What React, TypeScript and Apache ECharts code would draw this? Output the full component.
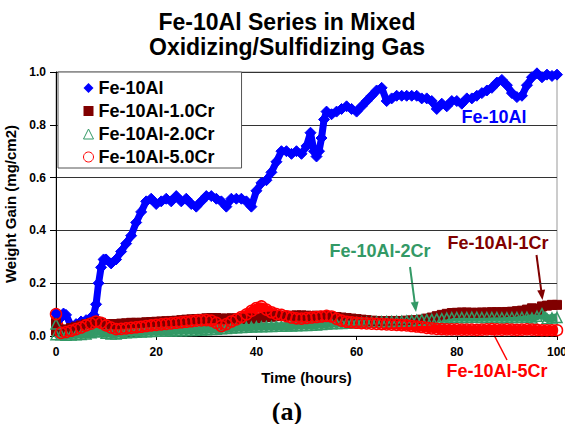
import React, { useEffect, useRef } from "react";
import * as echarts from "echarts";

// Weight gain (mg/cm2) vs time (hours) for each alloy, as [hours, gain]
const fe10Al: [number, number][] = [
  [0, 0.085], [1, 0.07], [1.5, 0.085], [2, 0.08], [3, 0.04], [4, 0.045], [5, 0.055], [6, 0.06],
  [7, 0.07], [7.5, 0.08], [8, 0.12], [8.5, 0.2], [9, 0.26], [9.5, 0.29], [10, 0.29], [11, 0.275],
  [12, 0.29], [13, 0.32], [14, 0.35], [15, 0.38], [16, 0.43], [17, 0.47], [18, 0.51], [19, 0.52],
  [20, 0.5], [21, 0.51], [22, 0.52], [23, 0.51], [24, 0.53], [25, 0.51], [26, 0.52], [27, 0.5],
  [28, 0.49], [29, 0.51], [30, 0.53], [31, 0.53], [32, 0.52], [33, 0.51], [34, 0.49], [35, 0.52],
  [36, 0.52], [37, 0.52], [38, 0.51], [39, 0.49], [40, 0.55], [41, 0.58], [42, 0.59], [43, 0.62],
  [44, 0.66], [45, 0.7], [46, 0.7], [47, 0.69], [48, 0.7], [49, 0.69], [50, 0.72], [50.8, 0.77],
  [51.5, 0.7], [52, 0.68], [52.5, 0.7], [53, 0.75], [53.5, 0.82], [54, 0.85], [55, 0.84], [56, 0.85],
  [57, 0.86], [58, 0.87], [59, 0.86], [60, 0.85], [61, 0.87], [62, 0.89], [63, 0.91], [64, 0.93],
  [65, 0.94], [66, 0.89], [67, 0.9], [68, 0.91], [69, 0.91], [70, 0.91], [71, 0.91], [72, 0.91],
  [73, 0.9], [74, 0.9], [75, 0.89], [76, 0.86], [77, 0.88], [78, 0.87], [79, 0.89], [80, 0.89],
  [81, 0.88], [82, 0.9], [83, 0.9], [84, 0.91], [85, 0.92], [86, 0.93], [87, 0.94], [88, 0.96],
  [89, 0.97], [90, 0.95], [91, 0.92], [92, 0.905], [93, 0.91], [94, 0.95], [95, 0.98], [96, 0.995],
  [97, 0.98], [98, 0.99], [99, 0.985], [100, 0.99],
];

const fe10Al1Cr: [number, number][] = [
  [0, 0.05], [0, 0.02], [1, 0.02], [2, 0.025], [3, 0.03], [4, 0.035], [5, 0.04], [6, 0.045], [7, 0.05],
  [8, 0.055], [9, 0.05], [10, 0.045], [11, 0.045], [12, 0.045], [13, 0.047], [14, 0.048], [15, 0.05],
  [16, 0.05], [17, 0.05], [18, 0.052], [19, 0.053], [20, 0.054], [21, 0.055], [22, 0.056], [23, 0.057],
  [24, 0.058], [25, 0.06], [26, 0.062], [27, 0.063], [28, 0.064], [29, 0.065], [30, 0.067], [31, 0.068],
  [32, 0.068], [33, 0.066], [34, 0.066], [35, 0.067], [36, 0.066], [37, 0.065], [38, 0.065], [39, 0.066],
  [40, 0.068], [41, 0.07], [42, 0.072], [43, 0.073], [44, 0.075], [45, 0.076], [46, 0.076], [47, 0.077],
  [48, 0.078], [49, 0.078], [50, 0.077], [51, 0.076], [52, 0.077], [53, 0.076], [54, 0.075], [55, 0.073],
  [56, 0.072], [57, 0.07], [58, 0.068], [59, 0.066], [60, 0.064], [61, 0.062], [62, 0.06], [63, 0.058],
  [64, 0.057], [65, 0.056], [66, 0.056], [67, 0.057], [68, 0.056], [69, 0.057], [70, 0.058], [71, 0.059],
  [72, 0.06], [73, 0.062], [74, 0.066], [75, 0.07], [76, 0.075], [77, 0.08], [78, 0.084], [79, 0.087],
  [80, 0.088], [81, 0.089], [82, 0.089], [83, 0.088], [84, 0.088], [85, 0.089], [86, 0.089], [87, 0.09],
  [88, 0.09], [89, 0.09], [90, 0.091], [91, 0.092], [92, 0.094], [93, 0.096], [94, 0.1], [95, 0.105],
  [96, 0.1], [97, 0.112], [98, 0.115], [99, 0.118], [100, 0.118],
];

const fe10Al2Cr: [number, number][] = [
  [0, 0.045], [0, 0.005], [1, 0.005], [2, 0.003], [3, 0.004], [4, 0.005], [5, 0.006], [6, 0.008], [7, 0.012],
  [8, 0.018], [9, 0.015], [10, 0.01], [11, 0.008], [12, 0.008], [13, 0.01], [14, 0.012], [15, 0.013],
  [16, 0.014], [17, 0.015], [18, 0.016], [19, 0.017], [20, 0.018], [21, 0.018], [22, 0.019], [23, 0.019],
  [24, 0.02], [25, 0.02], [26, 0.021], [27, 0.021], [28, 0.022], [29, 0.023], [30, 0.024], [31, 0.025],
  [32, 0.026], [33, 0.027], [34, 0.028], [35, 0.03], [36, 0.031], [37, 0.032], [38, 0.033], [39, 0.034],
  [40, 0.035], [41, 0.035], [42, 0.036], [43, 0.036], [44, 0.037], [45, 0.037], [46, 0.038], [47, 0.038],
  [48, 0.039], [49, 0.04], [50, 0.04], [51, 0.041], [52, 0.042], [53, 0.044], [54, 0.045], [55, 0.046],
  [56, 0.047], [57, 0.047], [58, 0.048], [59, 0.049], [60, 0.05], [61, 0.051], [62, 0.052], [63, 0.053],
  [64, 0.054], [65, 0.054], [66, 0.055], [67, 0.055], [68, 0.056], [69, 0.056], [70, 0.057], [71, 0.058],
  [72, 0.06], [73, 0.061], [74, 0.062], [75, 0.063], [76, 0.065], [77, 0.066], [78, 0.068], [79, 0.069],
  [80, 0.07], [81, 0.07], [82, 0.07], [83, 0.071], [84, 0.071], [85, 0.07], [86, 0.07], [87, 0.07],
  [88, 0.07], [89, 0.069], [90, 0.069], [91, 0.07], [92, 0.07], [93, 0.071], [94, 0.071], [95, 0.068],
  [96, 0.075], [97, 0.085], [98, 0.065], [99, 0.068], [100, 0.07],
];

const fe10Al5Cr: [number, number][] = [
  [0, 0.083], [1, 0.012], [2, 0.015], [3, 0.02], [4, 0.026], [5, 0.032], [6, 0.04], [7, 0.047],
  [8, 0.055], [9, 0.05], [10, 0.04], [11, 0.032], [12, 0.026], [13, 0.027], [14, 0.029], [15, 0.031],
  [16, 0.033], [17, 0.035], [18, 0.038], [19, 0.04], [20, 0.042], [21, 0.044], [22, 0.046], [23, 0.048],
  [24, 0.05], [25, 0.052], [26, 0.054], [27, 0.056], [28, 0.058], [29, 0.059], [30, 0.06], [31, 0.058],
  [32, 0.05], [33, 0.038], [34, 0.045], [35, 0.055], [36, 0.063], [37, 0.072], [38, 0.082], [39, 0.095],
  [40, 0.106], [41, 0.112], [42, 0.1], [43, 0.09], [44, 0.083], [45, 0.08], [46, 0.075], [47, 0.07],
  [48, 0.067], [49, 0.066], [50, 0.068], [51, 0.07], [52, 0.072], [53, 0.074], [54, 0.076], [55, 0.074],
  [56, 0.065], [57, 0.058], [58, 0.054], [59, 0.052], [60, 0.05], [61, 0.049], [62, 0.048], [63, 0.047],
  [64, 0.046], [65, 0.045], [66, 0.044], [67, 0.043], [68, 0.042], [69, 0.041], [70, 0.04], [71, 0.038],
  [72, 0.036], [73, 0.034], [74, 0.031], [75, 0.029], [76, 0.027], [77, 0.026], [78, 0.025], [79, 0.025],
  [80, 0.025], [81, 0.024], [82, 0.024], [83, 0.024], [84, 0.023], [85, 0.024], [86, 0.025], [87, 0.026],
  [88, 0.025], [89, 0.024], [90, 0.025], [91, 0.024], [92, 0.023], [93, 0.024], [94, 0.025], [95, 0.024],
  [96, 0.023], [97, 0.022], [98, 0.022], [99, 0.022], [100, 0.022],
];

const seriesNames = ["Fe-10Al", "Fe-10Al-1.0Cr", "Fe-10Al-2.0Cr", "Fe-10Al-5.0Cr"];
const titleLines = ["Fe-10Al Series in Mixed", "Oxidizing/Sulfidizing Gas"];

const BLUE = "#0000ff";
const MAROON = "#800000";
const GREEN = "#339966";
const RED = "#ff0000";
const SANS = 'Arial, "Liberation Sans", Helvetica, sans-serif';

// Straight arrow with a filled head at (x2, y2)
function arrow(x1: number, y1: number, x2: number, y2: number, color: string, head = 10, half = 4) {
  const dx = x2 - x1;
  const dy = y2 - y1;
  const len = Math.hypot(dx, dy);
  const ux = dx / len;
  const uy = dy / len;
  const bx = x2 - ux * head;
  const by = y2 - uy * head;
  return [
    { type: "line", shape: { x1, y1, x2: bx, y2: by }, style: { stroke: color, lineWidth: 2 } },
    {
      type: "polygon",
      shape: { points: [[x2, y2], [bx - uy * half, by + ux * half], [bx + uy * half, by - ux * half]] },
      style: { fill: color },
    },
  ];
}

function label(text: string, x: number, y: number, color: string) {
  return {
    type: "text",
    x,
    y,
    style: {
      text,
      fill: color,
      font: `bold 18px ${SANS}`,
      align: "center",
      verticalAlign: "middle",
    },
  };
}

export default function App() {
  const ref = useRef<HTMLDivElement>(null);

  useEffect(() => {
    if (!ref.current) return;
    const chart = echarts.init(ref.current, undefined, { renderer: "svg" });

    // Dense marker band: a thick line under the markers; hollow markers let the band show through
    const lineSeries = (
      name: string,
      data: [number, number][],
      color: string,
      symbol: string,
      symbolSize: number,
      width: number,
      hollow: boolean
    ) => ({
      name,
      type: "line",
      data,
      symbol,
      symbolSize,
      showAllSymbol: true,
      clip: false,
      itemStyle: hollow
        ? { color: "rgba(255,255,255,0)", borderColor: color, borderWidth: 1.5 }
        : { color, borderColor: color, borderWidth: 1 },
      lineStyle: { color, width },
      emphasis: { disabled: true },
    });

    chart.setOption({
      animation: false,
      backgroundColor: "#ffffff",
      grid: {
        left: 56,
        right: 8,
        top: 72,
        bottom: 88,
        show: true,
        borderColor: "#999999",
        borderWidth: 1,
        outerBoundsMode: "none",
        containLabel: false,
      },
      legend: {
        orient: "vertical",
        left: 58,
        top: 72,
        padding: [6, 27, 1, 25],
        itemGap: 3,
        itemWidth: 10,
        itemHeight: 10,
        backgroundColor: "#ffffff",
        borderColor: "#555555",
        borderWidth: 1,
        textStyle: { fontFamily: SANS, fontWeight: "bold", fontSize: 18, color: "#000", lineHeight: 20 },
        data: [
          { name: seriesNames[0], icon: "diamond", itemStyle: { color: BLUE, borderWidth: 0 } },
          { name: seriesNames[1], icon: "rect", itemStyle: { color: MAROON, borderWidth: 0 } },
          {
            name: seriesNames[2],
            icon: "triangle",
            itemStyle: { color: "#ffffff", borderColor: GREEN, borderWidth: 1 },
          },
          {
            name: seriesNames[3],
            icon: "circle",
            itemStyle: { color: "#ffffff", borderColor: RED, borderWidth: 1 },
          },
        ],
      },
      xAxis: {
        type: "value",
        min: 0,
        max: 100,
        interval: 20,
        name: "Time (hours)",
        nameLocation: "middle",
        nameGap: 34,
        nameTextStyle: { fontFamily: SANS, fontWeight: "bold", fontSize: 15, color: "#000" },
        axisLine: { lineStyle: { color: "#000", width: 1 } },
        axisTick: { show: true, length: 4, lineStyle: { color: "#000" } },
        axisLabel: { fontFamily: SANS, fontWeight: "bold", fontSize: 12, color: "#000", margin: 10 },
        splitLine: { show: false },
      },
      yAxis: {
        type: "value",
        min: 0,
        max: 1,
        interval: 0.2,
        name: "Weight Gain (mg/cm2)",
        nameLocation: "middle",
        nameRotate: 90,
        nameGap: 32,
        nameTextStyle: { fontFamily: SANS, fontWeight: "bold", fontSize: 15, color: "#000" },
        axisLine: { show: true, lineStyle: { color: "#000", width: 1 } },
        axisTick: { show: true, length: 6, lineStyle: { color: "#000" } },
        axisLabel: {
          fontFamily: SANS,
          fontWeight: "bold",
          fontSize: 12,
          color: "#000",
          margin: 10,
          formatter: (v: number) => v.toFixed(1),
        },
        splitLine: { show: true, lineStyle: { color: "#333333", width: 1 } },
      },
      series: [
        lineSeries(seriesNames[0], fe10Al, BLUE, "diamond", 11, 7, false),
        lineSeries(seriesNames[1], fe10Al1Cr, MAROON, "rect", 9, 9, false),
        lineSeries(seriesNames[2], fe10Al2Cr, GREEN, "triangle", 10, 8, true),
        lineSeries(seriesNames[3], fe10Al5Cr, RED, "circle", 11, 9, true),
      ],
      graphic: [
        ...titleLines.map((t, i) => ({
          type: "text",
          x: 287,
          y: 22 + i * 25,
          style: {
            text: t,
            fill: "#000",
            font: `bold 23px ${SANS}`,
            align: "center",
            verticalAlign: "middle",
          },
        })),
        label("Fe-10Al", 494, 117, BLUE),
        label("Fe-10Al-2Cr", 380, 251, GREEN),
        label("Fe-10Al-1Cr", 498, 243, MAROON),
        label("Fe-10Al-5Cr", 497, 371, RED),
        ...arrow(410, 267, 416, 312, GREEN),
        ...arrow(536.5, 255, 542.5, 300, MAROON),
        { type: "line", shape: { x1: 507, y1: 360, x2: 494, y2: 335 }, style: { stroke: RED, lineWidth: 1.5 } },
        {
          type: "text",
          x: 287,
          y: 411,
          style: {
            text: "(a)",
            fill: "#000",
            font: 'bold 26px "Liberation Serif", "Times New Roman", serif',
            align: "center",
            verticalAlign: "middle",
          },
        },
      ],
    });

    return () => chart.dispose();
  }, []);

  return (
    <div
      ref={ref}
      style={{ position: "absolute", left: 0, top: 0, width: 565, height: 424, background: "#fff" }}
    />
  );
}
